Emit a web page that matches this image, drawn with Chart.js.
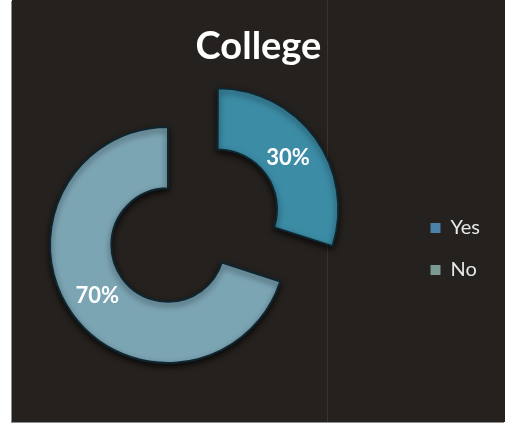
<!DOCTYPE html>
<html>
<head>
<meta charset="utf-8">
<title>College</title>
<script src="https://cdn.jsdelivr.net/npm/chart.js@4.4.1/dist/chart.umd.min.js"></script>
<style>
  html, body { margin: 0; padding: 0; background: #fff; }
  #frame {
    position: absolute; left: 12px; top: 0;
    width: 493px; height: 422px;
    background: #25211e;
    box-shadow: -1px 1px 0 #8e8e8e;
  }
</style>
</head>
<body>
<div id="frame"><canvas id="chart" width="493" height="422"></canvas></div>
<script>
// college answers
const answers = ["Yes", "No"];
const shares = [30, 70];
const sliceColors = ["#3c8ca6", "#7ca5b4"];
const keyColors = ["#4a82aa", "#7a9a92"];
// how far each slice is pulled out of the ring, px
const pullOut = [61, 0];

// plot area sits left of the legend, like the original sheet
const plotBox = { left: 0, right: 312, top: 70, bottom: 420 };
const plotEdgeX = 315.5;

const total = shares.reduce((a, b) => a + b, 0);

const plotArea = {
  id: "plotArea",
  afterLayout(chart) {
    const a = chart.chartArea;
    a.left = plotBox.left;
    a.right = plotBox.right;
    a.top = plotBox.top;
    a.bottom = plotBox.bottom;
    a.width = a.right - a.left;
    a.height = a.bottom - a.top;
  },
  beforeDraw(chart) {
    const ctx = chart.ctx;
    ctx.save();
    ctx.strokeStyle = "#39342f";
    ctx.lineWidth = 1;
    ctx.beginPath();
    ctx.moveTo(plotEdgeX, 0);
    ctx.lineTo(plotEdgeX, chart.height);
    ctx.stroke();
    ctx.restore();
  },
  beforeDatasetsDraw(chart) {
    const ctx = chart.ctx;
    ctx.save();
    ctx.shadowColor = "rgba(0,0,0,0.7)";
    ctx.shadowBlur = 6;
    ctx.shadowOffsetY = 3;
  },
  afterDatasetsDraw(chart) {
    chart.ctx.restore();
  }
};

// percentage text in the middle of each slice
const sliceLabels = {
  id: "sliceLabels",
  afterDraw(chart) {
    const ctx = chart.ctx;
    const meta = chart.getDatasetMeta(0);
    ctx.save();
    ctx.font = "bold 22px Lato";
    ctx.fillStyle = "#ffffff";
    ctx.textAlign = "center";
    ctx.textBaseline = "middle";
    meta.data.forEach((arc, i) => {
      const p = arc.getProps(["x", "y", "startAngle", "endAngle", "innerRadius", "outerRadius"]);
      const mid = (p.startAngle + p.endAngle) / 2;
      // arcs draw their offset at a quarter of the option value
      const r = (p.innerRadius + p.outerRadius) / 2 + (arc.options.offset || 0) / 4;
      const pct = Math.round(shares[i] / total * 100) + "%";
      ctx.fillText(pct, p.x + Math.cos(mid) * r, p.y + Math.sin(mid) * r);
    });
    ctx.restore();
  }
};

new Chart(document.getElementById("chart"), {
  type: "doughnut",
  data: {
    labels: answers,
    datasets: [{
      data: shares,
      backgroundColor: sliceColors,
      borderColor: "#0f2630",
      borderWidth: 2,
      offset: pullOut.map(v => v * 4),
      hoverOffset: 0
    }]
  },
  options: {
    responsive: false,
    devicePixelRatio: 1,
    animation: false,
    radius: 118,
    cutout: "48%",
    layout: { padding: { left: 15, right: 15, bottom: 120 } },
    plugins: {
      title: {
        display: true,
        text: "College",
        color: "#ffffff",
        font: { family: "Lato", size: 38, weight: "bold" },
        padding: { top: 24, bottom: 8 }
      },
      legend: {
        position: "right",
        align: "end",
        labels: {
          color: "#e8e8e8",
          font: { family: "Lato", size: 20 },
          boxWidth: 10,
          boxHeight: 10,
          padding: 22,
          generateLabels(chart) {
            return answers.map((a, i) => ({
              text: a,
              fillStyle: keyColors[i],
              strokeStyle: keyColors[i],
              lineWidth: 0,
              fontColor: "#e8e8e8",
              hidden: false,
              index: i
            }));
          }
        }
      },
      tooltip: { enabled: false }
    }
  },
  plugins: [plotArea, sliceLabels]
});
</script>
</body>
</html>
